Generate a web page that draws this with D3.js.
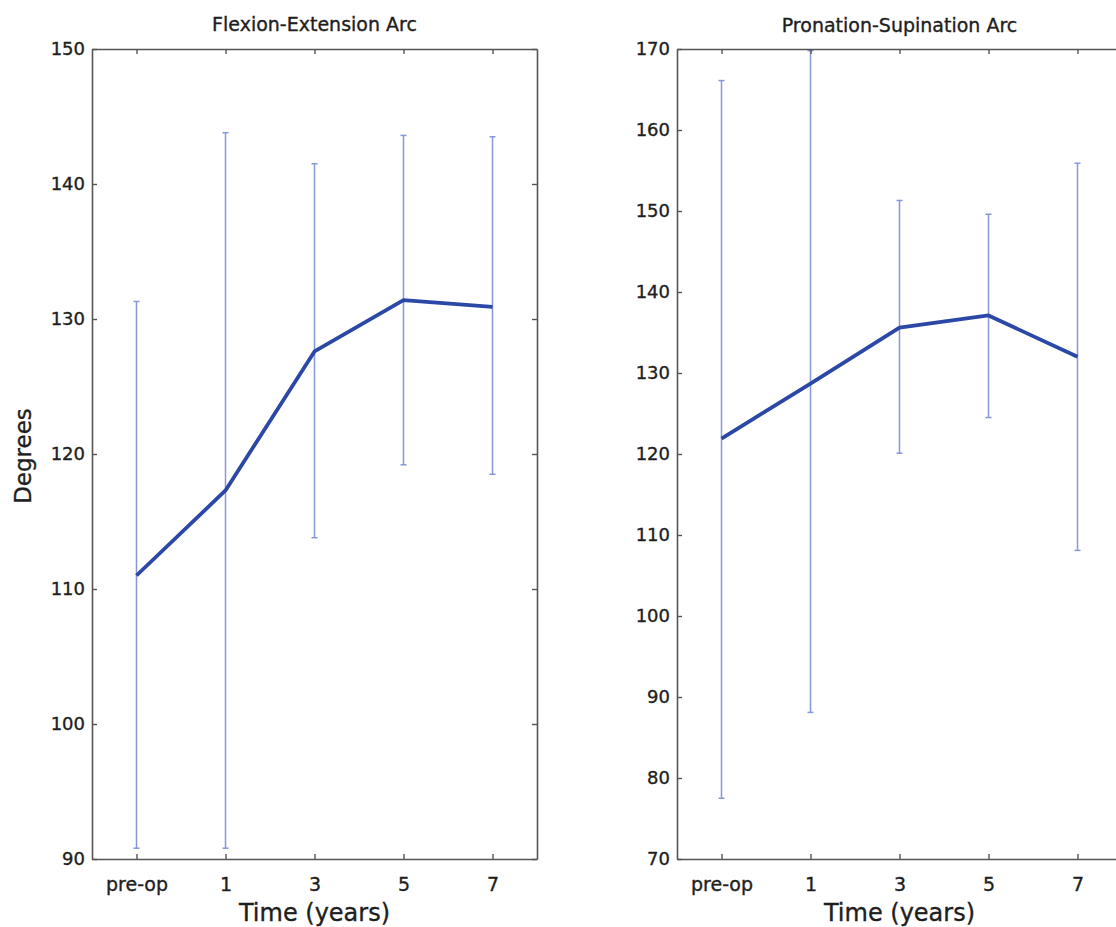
<!DOCTYPE html>
<html>
<head>
<meta charset="utf-8">
<script src="https://cdn.jsdelivr.net/npm/d3@7"></script>
<style>
  body { margin: 0; background: #fff; }
  text { font-family: "DejaVu Sans", "Liberation Sans", sans-serif; fill: #1e1e1e; stroke: #1e1e1e; stroke-width: 0.35px; }
</style>
</head>
<body>
<div id="target"></div>
<script>
const timepoints = ["pre-op", "1", "3", "5", "7"];

// Flexion-Extension arc (degrees)
const flexMean = [111.0, 117.3, 127.6, 131.4, 130.9];
const flexHigh = [131.3, 143.8, 141.5, 143.6, 143.5];
const flexLow = [90.8, 90.8, 113.8, 119.2, 118.5];
const flexTicks = [90, 100, 110, 120, 130, 140, 150];

// Pronation-Supination arc (degrees)
const proMean = [121.9, 128.7, 135.6, 137.1, 132.0];
const proHigh = [166.1, 169.8, 151.3, 149.6, 155.9];
const proLow = [77.5, 88.1, 120.1, 124.5, 108.1];
const proTicks = [70, 80, 90, 100, 110, 120, 130, 140, 150, 160, 170];

const width = 1116,
  height = 927;

const svg = d3.select("#target")
  .append("svg")
  .attr("width", width)
  .attr("height", height);

function drawPanel(opts) {
  const left = opts.left,
    right = opts.right,
    top = 49,
    bottom = 859;

  const x = d3.scalePoint()
    .domain(timepoints)
    .range([left, right])
    .padding(0.5);

  const y = d3.scaleLinear()
    .domain(opts.domain)
    .range([bottom, top]);

  const g = svg.append("g");

  // error bars
  const bars = g.append("g")
    .selectAll("g")
    .data(timepoints.map((t, i) => ({ t: t, lo: opts.low[i], hi: opts.high[i] })))
    .enter()
    .append("g")
    .attr("stroke", "#8797dc")
    .attr("stroke-width", 1.5);

  bars.append("line")
    .attr("x1", (d) => x(d.t))
    .attr("x2", (d) => x(d.t))
    .attr("y1", (d) => y(d.lo))
    .attr("y2", (d) => y(d.hi));

  bars.append("line")
    .attr("x1", (d) => x(d.t) - 3)
    .attr("x2", (d) => x(d.t) + 3)
    .attr("y1", (d) => y(d.lo))
    .attr("y2", (d) => y(d.lo));

  bars.append("line")
    .attr("x1", (d) => x(d.t) - 3)
    .attr("x2", (d) => x(d.t) + 3)
    .attr("y1", (d) => y(d.hi))
    .attr("y2", (d) => y(d.hi));

  // mean line
  const line = d3.line()
    .x((d, i) => x(timepoints[i]))
    .y((d) => y(d));

  g.append("path")
    .datum(opts.mean)
    .attr("d", line)
    .attr("fill", "none")
    .attr("stroke", "#2b48a6")
    .attr("stroke-width", 3.8)
    .attr("stroke-linejoin", "round");

  // axes box with inward ticks
  const axisStyle = (sel) => {
    sel.selectAll(".domain").attr("stroke", "#555").attr("stroke-width", 1.6);
    sel.selectAll(".tick line").attr("stroke", "#555").attr("stroke-width", 1.4);
    sel.selectAll("text")
      .style("font-family", "'DejaVu Sans', 'Liberation Sans', sans-serif")
      .style("font-size", "18px")
      .attr("fill", "#1e1e1e");
  };

  g.append("g")
    .attr("transform", `translate(0,${bottom})`)
    .call(d3.axisBottom(x).tickSizeInner(-5).tickSizeOuter(0).tickPadding(19))
    .call(axisStyle)
    .selectAll("text")
    .style("font-size", "19px");

  g.append("g")
    .attr("transform", `translate(0,${top})`)
    .call(d3.axisTop(x).tickSizeInner(-5).tickSizeOuter(0).tickFormat(""))
    .call(axisStyle);

  g.append("g")
    .attr("transform", `translate(${left},0)`)
    .call(d3.axisLeft(y).tickValues(opts.ticks).tickSizeInner(-5).tickSizeOuter(0).tickPadding(7))
    .call(axisStyle);

  g.append("g")
    .attr("transform", `translate(${right},0)`)
    .call(d3.axisRight(y).tickValues(opts.ticks).tickSizeInner(-5).tickSizeOuter(0).tickFormat(""))
    .call(axisStyle);

  // title
  g.append("text")
    .attr("x", (left + right) / 2)
    .attr("y", opts.titleY)
    .attr("text-anchor", "middle")
    .style("font-size", "19px")
    .text(opts.title);

  // x label
  g.append("text")
    .attr("x", x("3"))
    .attr("y", 921)
    .attr("text-anchor", "middle")
    .style("font-size", "24px")
    .text("Time (years)");

  return g;
}

drawPanel({
  left: 92,
  right: 537,
  domain: [90, 150],
  ticks: flexTicks,
  mean: flexMean,
  low: flexLow,
  high: flexHigh,
  title: "Flexion-Extension Arc",
  titleY: 31
});

drawPanel({
  left: 677,
  right: 1122,
  domain: [70, 170],
  ticks: proTicks,
  mean: proMean,
  low: proLow,
  high: proHigh,
  title: "Pronation-Supination Arc",
  titleY: 32
});

svg.append("text")
  .attr("transform", "translate(31,456) rotate(-90)")
  .attr("text-anchor", "middle")
  .style("font-size", "23px")
  .text("Degrees");
</script>
</body>
</html>
